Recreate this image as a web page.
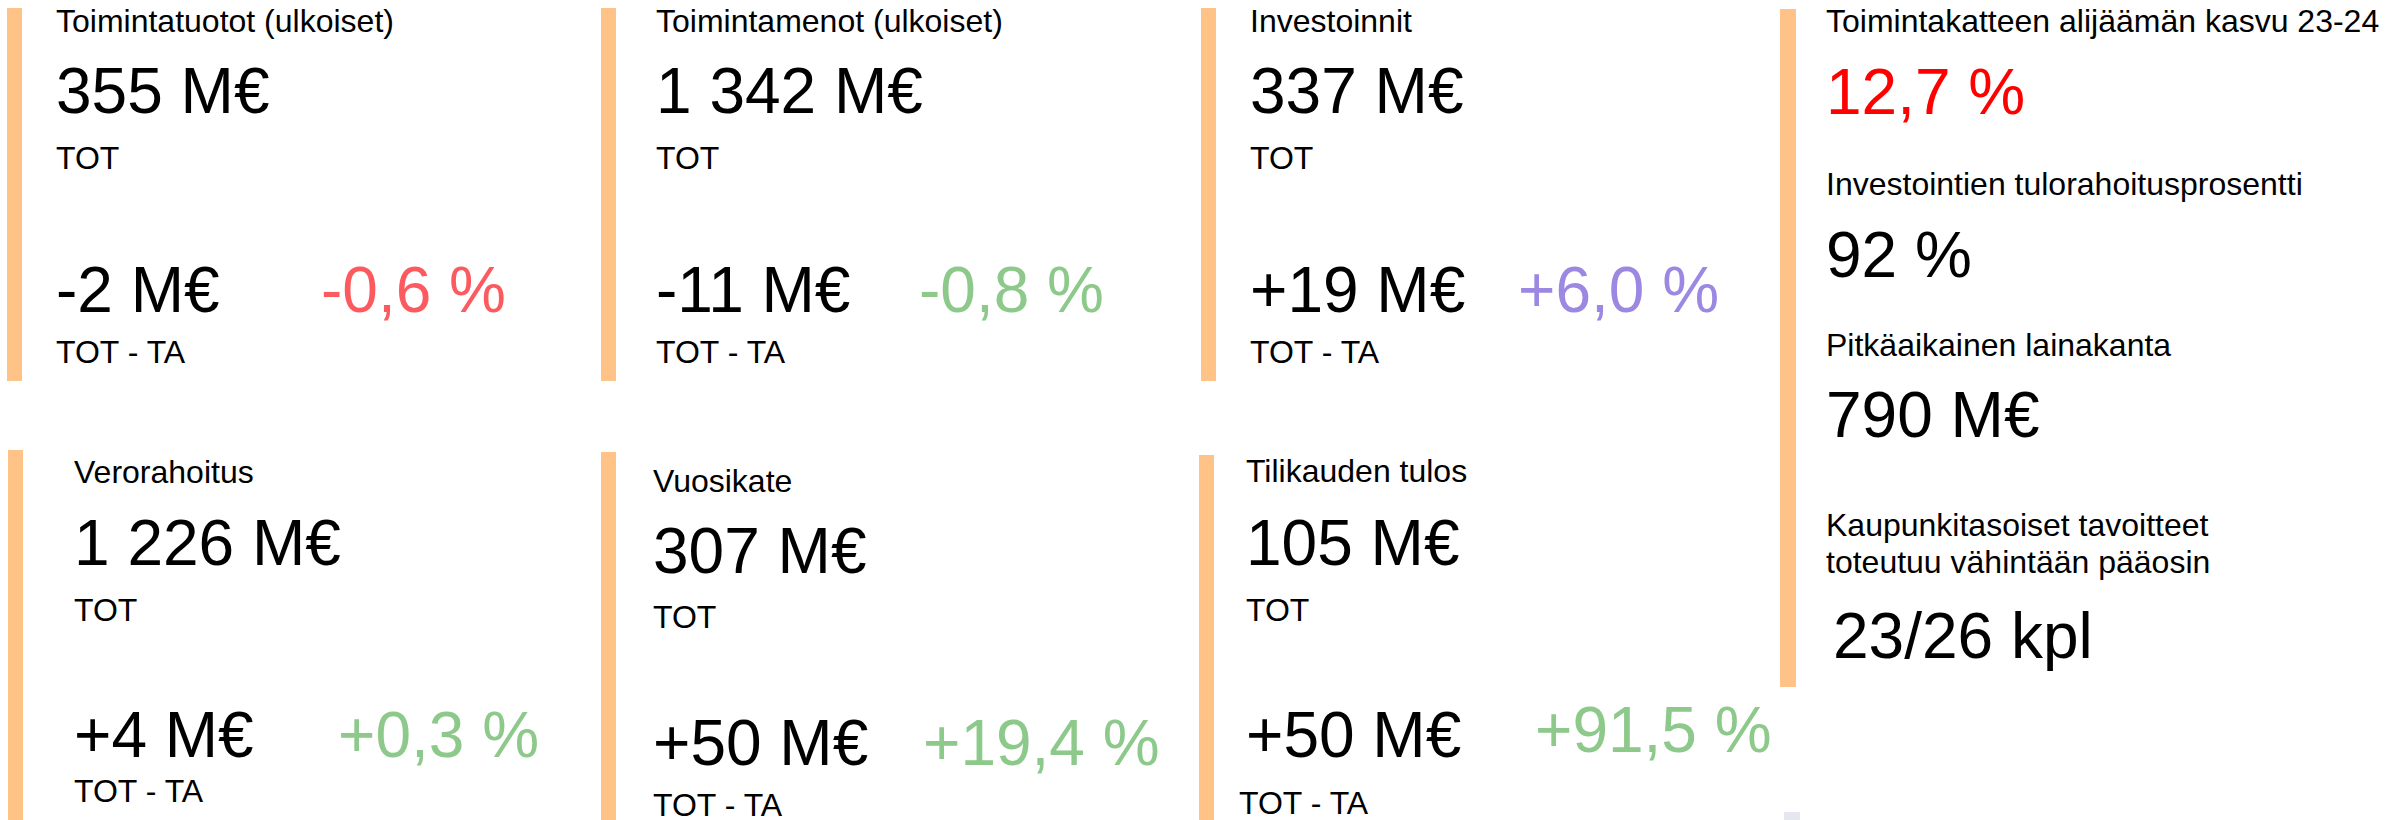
<!DOCTYPE html>
<html><head><meta charset="utf-8">
<script src="https://cdn.jsdelivr.net/npm/chart.js@4.4.1/dist/chart.umd.min.js"></script>
<style>
html,body{margin:0;padding:0;background:#fff;width:2396px;height:820px;overflow:hidden;}
body{position:relative;font-family:"Liberation Sans",Arial,sans-serif;color:#000;}
.t{position:absolute;white-space:nowrap;line-height:1;}
.bar{position:absolute;background:#FFC388;}
</style></head><body>
<script>
// ---- data ----
const cardTitles = ["Toimintatuotot (ulkoiset)", "Toimintamenot (ulkoiset)", "Investoinnit",
                    "Verorahoitus", "Vuosikate", "Tilikauden tulos"];
const totValues = [355, 1342, 337, 1226, 307, 105];          // M€
const diffValues = [-2, -11, 19, 4, 50, 50];                // M€, TOT - TA
const diffPercents = [-0.6, -0.8, 6.0, 0.3, 19.4, 91.5];    // %
const totLabel = "TOT";
const diffLabel = "TOT - TA";
const sideTitles = ["Toimintakatteen alijäämän kasvu 23-24", "Investointien tulorahoitusprosentti",
                    "Pitkäaikainen lainakanta", ["Kaupunkitasoiset tavoitteet", "toteutuu vähintään pääosin"]];
const deficitGrowthPct = 12.7;
const selfFinancingPct = 92;
const longTermLoans = 790;       // M€
const goalsMet = 23;
const goalsTotal = 26;

// ---- formatting ----
const fmtInt = n => String(Math.abs(n)).replace(/\B(?=(\d{3})+(?!\d))/g, " ");
const sign = n => n > 0 ? "+" : (n < 0 ? "-" : "");
const fmtPct = (n, d) => sign(n) + Math.abs(n).toFixed(d).replace(".", ",") + " %";

// ---- styles / layout ----
const ORANGE = "#FFC388";
const pctColors = ["#FD5A5F", "#8DC98B", "#9C88E2", "#8DC98B", "#8DC98B", "#8DC98B"];
const SMALL = 32, BIG = 64;
const ASC = 0.8465;
function place(text, left, baseline, size, color, lh) {
  const d = document.createElement("div");
  d.className = "t";
  d.textContent = text;
  const l = lh || 1;
  d.style.left = left + "px";
  d.style.lineHeight = l;
  d.style.top = (baseline - (ASC - (1 - l) / 2) * size) + "px";
  d.style.fontSize = size + "px";
  if (color) d.style.color = color;
  document.body.appendChild(d);
}
function bar(x, y, w, h) {
  const d = document.createElement("div");
  d.className = "bar";
  Object.assign(d.style, {left: x + "px", top: y + "px", width: w + "px", height: h + "px", background: ORANGE});
  document.body.appendChild(d);
}
const cardLayout = [
  {bx: 7,    by: 8,   bh: 373, x: 56,   pctX: 321,  b: [32, 113, 169, 312, 363], pctB: 312, taX: 56},
  {bx: 601,  by: 8,   bh: 373, x: 656,  pctX: 919,  b: [32, 113, 169, 312, 363], pctB: 312, taX: 656},
  {bx: 1201, by: 8,   bh: 373, x: 1250, pctX: 1518, b: [32, 113, 169, 312, 363], pctB: 312, taX: 1250},
  {bx: 8,    by: 450, bh: 370, x: 74,   pctX: 338,  b: [483, 565, 621, 757, 803], pctB: 757, taX: 74},
  {bx: 601,  by: 452, bh: 368, x: 653,  pctX: 923,  b: [492, 573, 628, 765, 817], pctB: 765, taX: 653},
  {bx: 1199, by: 455, bh: 365, x: 1246, pctX: 1535, b: [482, 565, 621, 757, 815], pctB: 752, taX: 1239}
];
cardLayout.forEach((L, i) => {
  bar(L.bx, L.by, 15, L.bh);
  place(cardTitles[i], L.x, L.b[0], SMALL);
  place(fmtInt(totValues[i]) + " M€", L.x, L.b[1], BIG);
  place(totLabel, L.x, L.b[2], SMALL);
  place(sign(diffValues[i]) + fmtInt(diffValues[i]) + " M€", L.x, L.b[3], BIG);
  place(fmtPct(diffPercents[i], 1), L.pctX, L.pctB, BIG, pctColors[i]);
  place(diffLabel, L.taX, L.b[4], SMALL, null, i >= 3 ? 0.8 : 1);
});

// right column
bar(1780, 9, 16, 678);
const RX = 1826;
place(sideTitles[0], RX, 32, SMALL);
place(deficitGrowthPct.toFixed(1).replace(".", ",") + " %", RX, 114, BIG, "#FF0000");
place(sideTitles[1], RX, 195, SMALL);
place(selfFinancingPct + " %", RX, 277, BIG);
place(sideTitles[2], RX, 356, SMALL);
place(fmtInt(longTermLoans) + " M€", RX, 437, BIG);
place(sideTitles[3][0], RX, 536, SMALL);
place(sideTitles[3][1], RX, 573, SMALL);
place(goalsMet + "/" + goalsTotal + " kpl", RX + 7, 658, BIG);

// small grey marker at the bottom
const g = document.createElement("div");
Object.assign(g.style, {position: "absolute", left: "1784px", top: "812px", width: "16px", height: "8px", background: "#E4E8EE"});
document.body.appendChild(g);
</script>
</body></html>
